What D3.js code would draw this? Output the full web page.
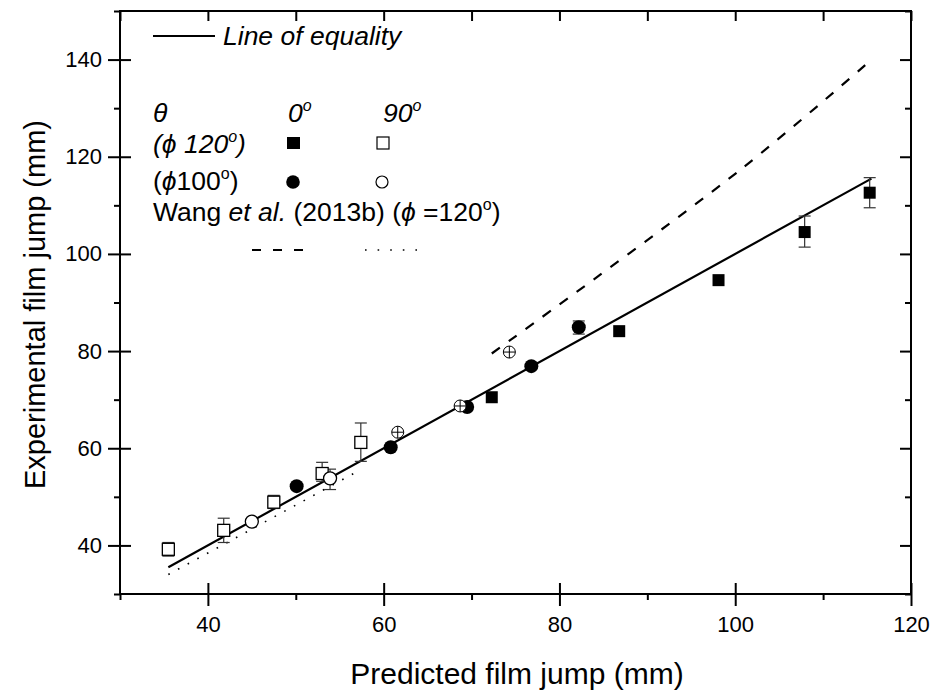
<!DOCTYPE html>
<html>
<head>
<meta charset="utf-8">
<script src="https://cdn.jsdelivr.net/npm/d3@7"></script>
<style>
  body { margin: 0; background: #fff; }
  svg { font-family: "Liberation Sans", Arial, sans-serif; }
  .domain { display: none; }
</style>
</head>
<body>
<svg id="plot"></svg>
<script>
// data (predicted, experimental, error low, error high)
const filledSquares = [ // phi 120, theta 0
  [72.3, 70.5], [86.8, 84.1], [98.1, 94.6],
  [107.9, 104.5, 101.4, 107.8], [115.3, 112.6, 109.5, 115.7]
];
const openSquares = [ // phi 120, theta 90
  [35.5, 39.2, 37.8, 40.6], [41.8, 43.1, 40.6, 45.6], [47.5, 48.9, 47.6, 50.3],
  [53.0, 54.8, 53.2, 57.1], [57.4, 61.2, 57.3, 65.2]
];
const filledCircles = [ // phi 100, theta 0
  [50.1, 52.2], [60.8, 60.2], [69.5, 68.5], [76.8, 76.9], [82.2, 84.9, 83.5, 86.2]
];
const openCircles = [ // phi 100, theta 90
  [45.0, 44.9], [53.9, 53.8, 51.5, 55.7]
];
const crossedCircles = [[61.6, 63.3], [68.7, 68.7], [74.3, 79.8]];
const equalityLine = [[35.5, 35.5], [115.5, 115.5]];
const wangDashed = [[72.3, 79.5], [100.5, 117.2], [115.2, 139.5]];
const wangDotted = [[35.5, 34.0], [57.3, 55.5]];
const xMajor = [40, 60, 80, 100, 120];
const xMinor = [30, 50, 70, 90, 110];
const yMajor = [40, 60, 80, 100, 120, 140];
const yMinor = [30, 50, 70, 90, 110, 130, 150];

const svg = d3.select("#plot").attr("width", 938).attr("height", 695);
const margin = { left: 120, right: 911, top: 11, bottom: 594 };

const x = d3.scaleLinear().domain([30, 120]).range([margin.left, margin.right]);
const y = d3.scaleLinear().domain([30, 150]).range([margin.bottom, margin.top]);

// frame
svg.append("rect")
  .attr("x", margin.left).attr("y", margin.top)
  .attr("width", margin.right - margin.left).attr("height", margin.bottom - margin.top)
  .attr("fill", "none").attr("stroke", "#000").attr("stroke-width", 2);

// bottom axis: majors cross the line, minors outward
svg.append("g").attr("transform", `translate(0,${margin.bottom})`)
  .call(d3.axisBottom(x).tickValues(xMajor).tickSize(12).tickPadding(10).tickFormat(d3.format("d")))
  .call(g => g.selectAll("text").attr("font-size", 22).attr("fill", "#000").attr("font-family", "Liberation Sans, Arial"));
svg.append("g").attr("transform", `translate(0,${margin.bottom})`)
  .call(d3.axisTop(x).tickValues(xMajor).tickSize(11).tickFormat(""));
svg.append("g").attr("transform", `translate(0,${margin.bottom})`)
  .call(d3.axisBottom(x).tickValues(xMinor).tickSize(6).tickFormat(""));
// top axis inward
svg.append("g").attr("transform", `translate(0,${margin.top})`)
  .call(d3.axisBottom(x).tickValues(xMajor.concat(xMinor)).tickSize(10).tickFormat(""));

// left axis
svg.append("g").attr("transform", `translate(${margin.left},0)`)
  .call(d3.axisLeft(y).tickValues(yMajor).tickSize(12).tickPadding(6).tickFormat(d3.format("d")))
  .call(g => g.selectAll("text").attr("font-size", 22).attr("fill", "#000").attr("font-family", "Liberation Sans, Arial"));
svg.append("g").attr("transform", `translate(${margin.left},0)`)
  .call(d3.axisRight(y).tickValues(yMajor).tickSize(11).tickFormat(""));
svg.append("g").attr("transform", `translate(${margin.left},0)`)
  .call(d3.axisLeft(y).tickValues(yMinor).tickSize(6).tickFormat(""));
// right axis inward
svg.append("g").attr("transform", `translate(${margin.right},0)`)
  .call(d3.axisLeft(y).tickValues(yMajor).tickSize(11).tickFormat(""));
svg.append("g").attr("transform", `translate(${margin.right},0)`)
  .call(d3.axisLeft(y).tickValues(yMinor).tickSize(6).tickFormat(""));

svg.selectAll(".tick line").attr("stroke", "#000").attr("stroke-width", 2);

// axis titles
svg.append("text")
  .attr("x", 517).attr("y", 684)
  .attr("text-anchor", "middle").attr("font-size", 30)
  .text("Predicted film jump (mm)");
svg.append("text")
  .attr("transform", `translate(45,${(margin.top + margin.bottom) / 2 + 2}) rotate(-90)`)
  .attr("text-anchor", "middle").attr("font-size", 29)
  .text("Experimental film jump (mm)");

const line = d3.line().x(d => x(d[0])).y(d => y(d[1]));

svg.append("path").attr("d", line(equalityLine))
  .attr("fill", "none").attr("stroke", "#000").attr("stroke-width", 2.2);
svg.append("path").attr("d", d3.line().x(d => x(d[0])).y(d => y(d[1])).curve(d3.curveCatmullRom)(wangDashed))
  .attr("fill", "none").attr("stroke", "#000").attr("stroke-width", 2.2)
  .attr("stroke-dasharray", "10,11");
svg.append("path").attr("d", line(wangDotted))
  .attr("fill", "none").attr("stroke", "#000").attr("stroke-width", 1.6)
  .attr("stroke-dasharray", "1.6,9.4");

// error bars
function errorBars(data) {
  const g = svg.append("g").attr("stroke", "#333").attr("stroke-width", 1.2);
  data.filter(d => d.length > 2).forEach(d => {
    const cx = x(d[0]);
    g.append("line").attr("x1", cx).attr("x2", cx).attr("y1", y(d[2])).attr("y2", y(d[3]));
    g.append("line").attr("x1", cx - 6).attr("x2", cx + 6).attr("y1", y(d[2])).attr("y2", y(d[2]));
    g.append("line").attr("x1", cx - 6).attr("x2", cx + 6).attr("y1", y(d[3])).attr("y2", y(d[3]));
  });
}
[openSquares, openCircles, filledSquares, filledCircles].forEach(errorBars);

svg.selectAll(".osq").data(openSquares).enter().append("rect")
  .attr("x", d => x(d[0]) - 6).attr("y", d => y(d[1]) - 6)
  .attr("width", 12).attr("height", 12)
  .attr("fill", "#fff").attr("stroke", "#000").attr("stroke-width", 1.3);
svg.selectAll(".ocirc").data(openCircles).enter().append("circle")
  .attr("cx", d => x(d[0])).attr("cy", d => y(d[1])).attr("r", 6.5)
  .attr("fill", "#fff").attr("stroke", "#000").attr("stroke-width", 1.3);
svg.selectAll(".fsq").data(filledSquares).enter().append("rect")
  .attr("x", d => x(d[0]) - 6).attr("y", d => y(d[1]) - 6)
  .attr("width", 12).attr("height", 12).attr("fill", "#000");
svg.selectAll(".fcirc").data(filledCircles).enter().append("circle")
  .attr("cx", d => x(d[0])).attr("cy", d => y(d[1])).attr("r", 7).attr("fill", "#000");

// crossed circles
const cc = svg.selectAll(".cc").data(crossedCircles).enter().append("g")
  .attr("transform", d => `translate(${x(d[0])},${y(d[1])})`)
  .attr("stroke", "#000").attr("stroke-width", 1);
cc.append("circle").attr("r", 6).attr("fill", "#fff");
cc.append("line").attr("x1", -6).attr("x2", 6);
cc.append("line").attr("y1", -6).attr("y2", 6);

// legend
const lg = svg.append("g").attr("font-size", 26.5).attr("fill", "#000");
lg.append("line").attr("x1", 153).attr("x2", 215).attr("y1", 36).attr("y2", 36)
  .attr("stroke", "#000").attr("stroke-width", 1.8);
lg.append("text").attr("x", 223).attr("y", 45).attr("font-style", "italic").text("Line of equality");

function sup(t, italic) {
  t.append("tspan").attr("font-size", 16).attr("dy", -11).attr("font-style", italic ? "italic" : null).text("o");
}
lg.append("text").attr("x", 153).attr("y", 122).attr("font-style", "italic").text("θ");
const t0 = lg.append("text").attr("x", 288).attr("y", 122).attr("font-style", "italic");
t0.append("tspan").text("0"); sup(t0, true);
const t90 = lg.append("text").attr("x", 383).attr("y", 122).attr("font-style", "italic");
t90.append("tspan").text("90"); sup(t90, true);

const r2 = lg.append("text").attr("x", 153).attr("y", 153).attr("font-style", "italic");
r2.append("tspan").text("(ϕ 120");
sup(r2, true);
r2.append("tspan").attr("dy", 11).text(")");
lg.append("rect").attr("x", 287).attr("y", 137).attr("width", 13).attr("height", 12).attr("fill", "#000");
lg.append("rect").attr("x", 377).attr("y", 137).attr("width", 12).attr("height", 12)
  .attr("fill", "#fff").attr("stroke", "#000").attr("stroke-width", 1.2);

const r3 = lg.append("text").attr("x", 153).attr("y", 190);
r3.append("tspan").text("(");
r3.append("tspan").attr("font-style", "italic").text("ϕ");
r3.append("tspan").text("100");
sup(r3, false);
r3.append("tspan").attr("dy", 11).text(")");
lg.append("circle").attr("cx", 293).attr("cy", 182).attr("r", 6.8).attr("fill", "#000");
lg.append("circle").attr("cx", 382).attr("cy", 182).attr("r", 6)
  .attr("fill", "#fff").attr("stroke", "#000").attr("stroke-width", 1.2);

const r4 = lg.append("text").attr("x", 153).attr("y", 221);
r4.append("tspan").text("Wang ");
r4.append("tspan").attr("font-style", "italic").text("et al.");
r4.append("tspan").text(" (2013b) (");
r4.append("tspan").attr("font-style", "italic").text("ϕ");
r4.append("tspan").text(" =120");
sup(r4, false);
r4.append("tspan").attr("dy", 11).text(")");

lg.append("line").attr("x1", 252).attr("x2", 304).attr("y1", 250).attr("y2", 250)
  .attr("stroke", "#000").attr("stroke-width", 2).attr("stroke-dasharray", "9,12");
lg.append("line").attr("x1", 365).attr("x2", 418).attr("y1", 250).attr("y2", 250)
  .attr("stroke", "#000").attr("stroke-width", 1.6).attr("stroke-dasharray", "1.6,11");
</script>
</body>
</html>
